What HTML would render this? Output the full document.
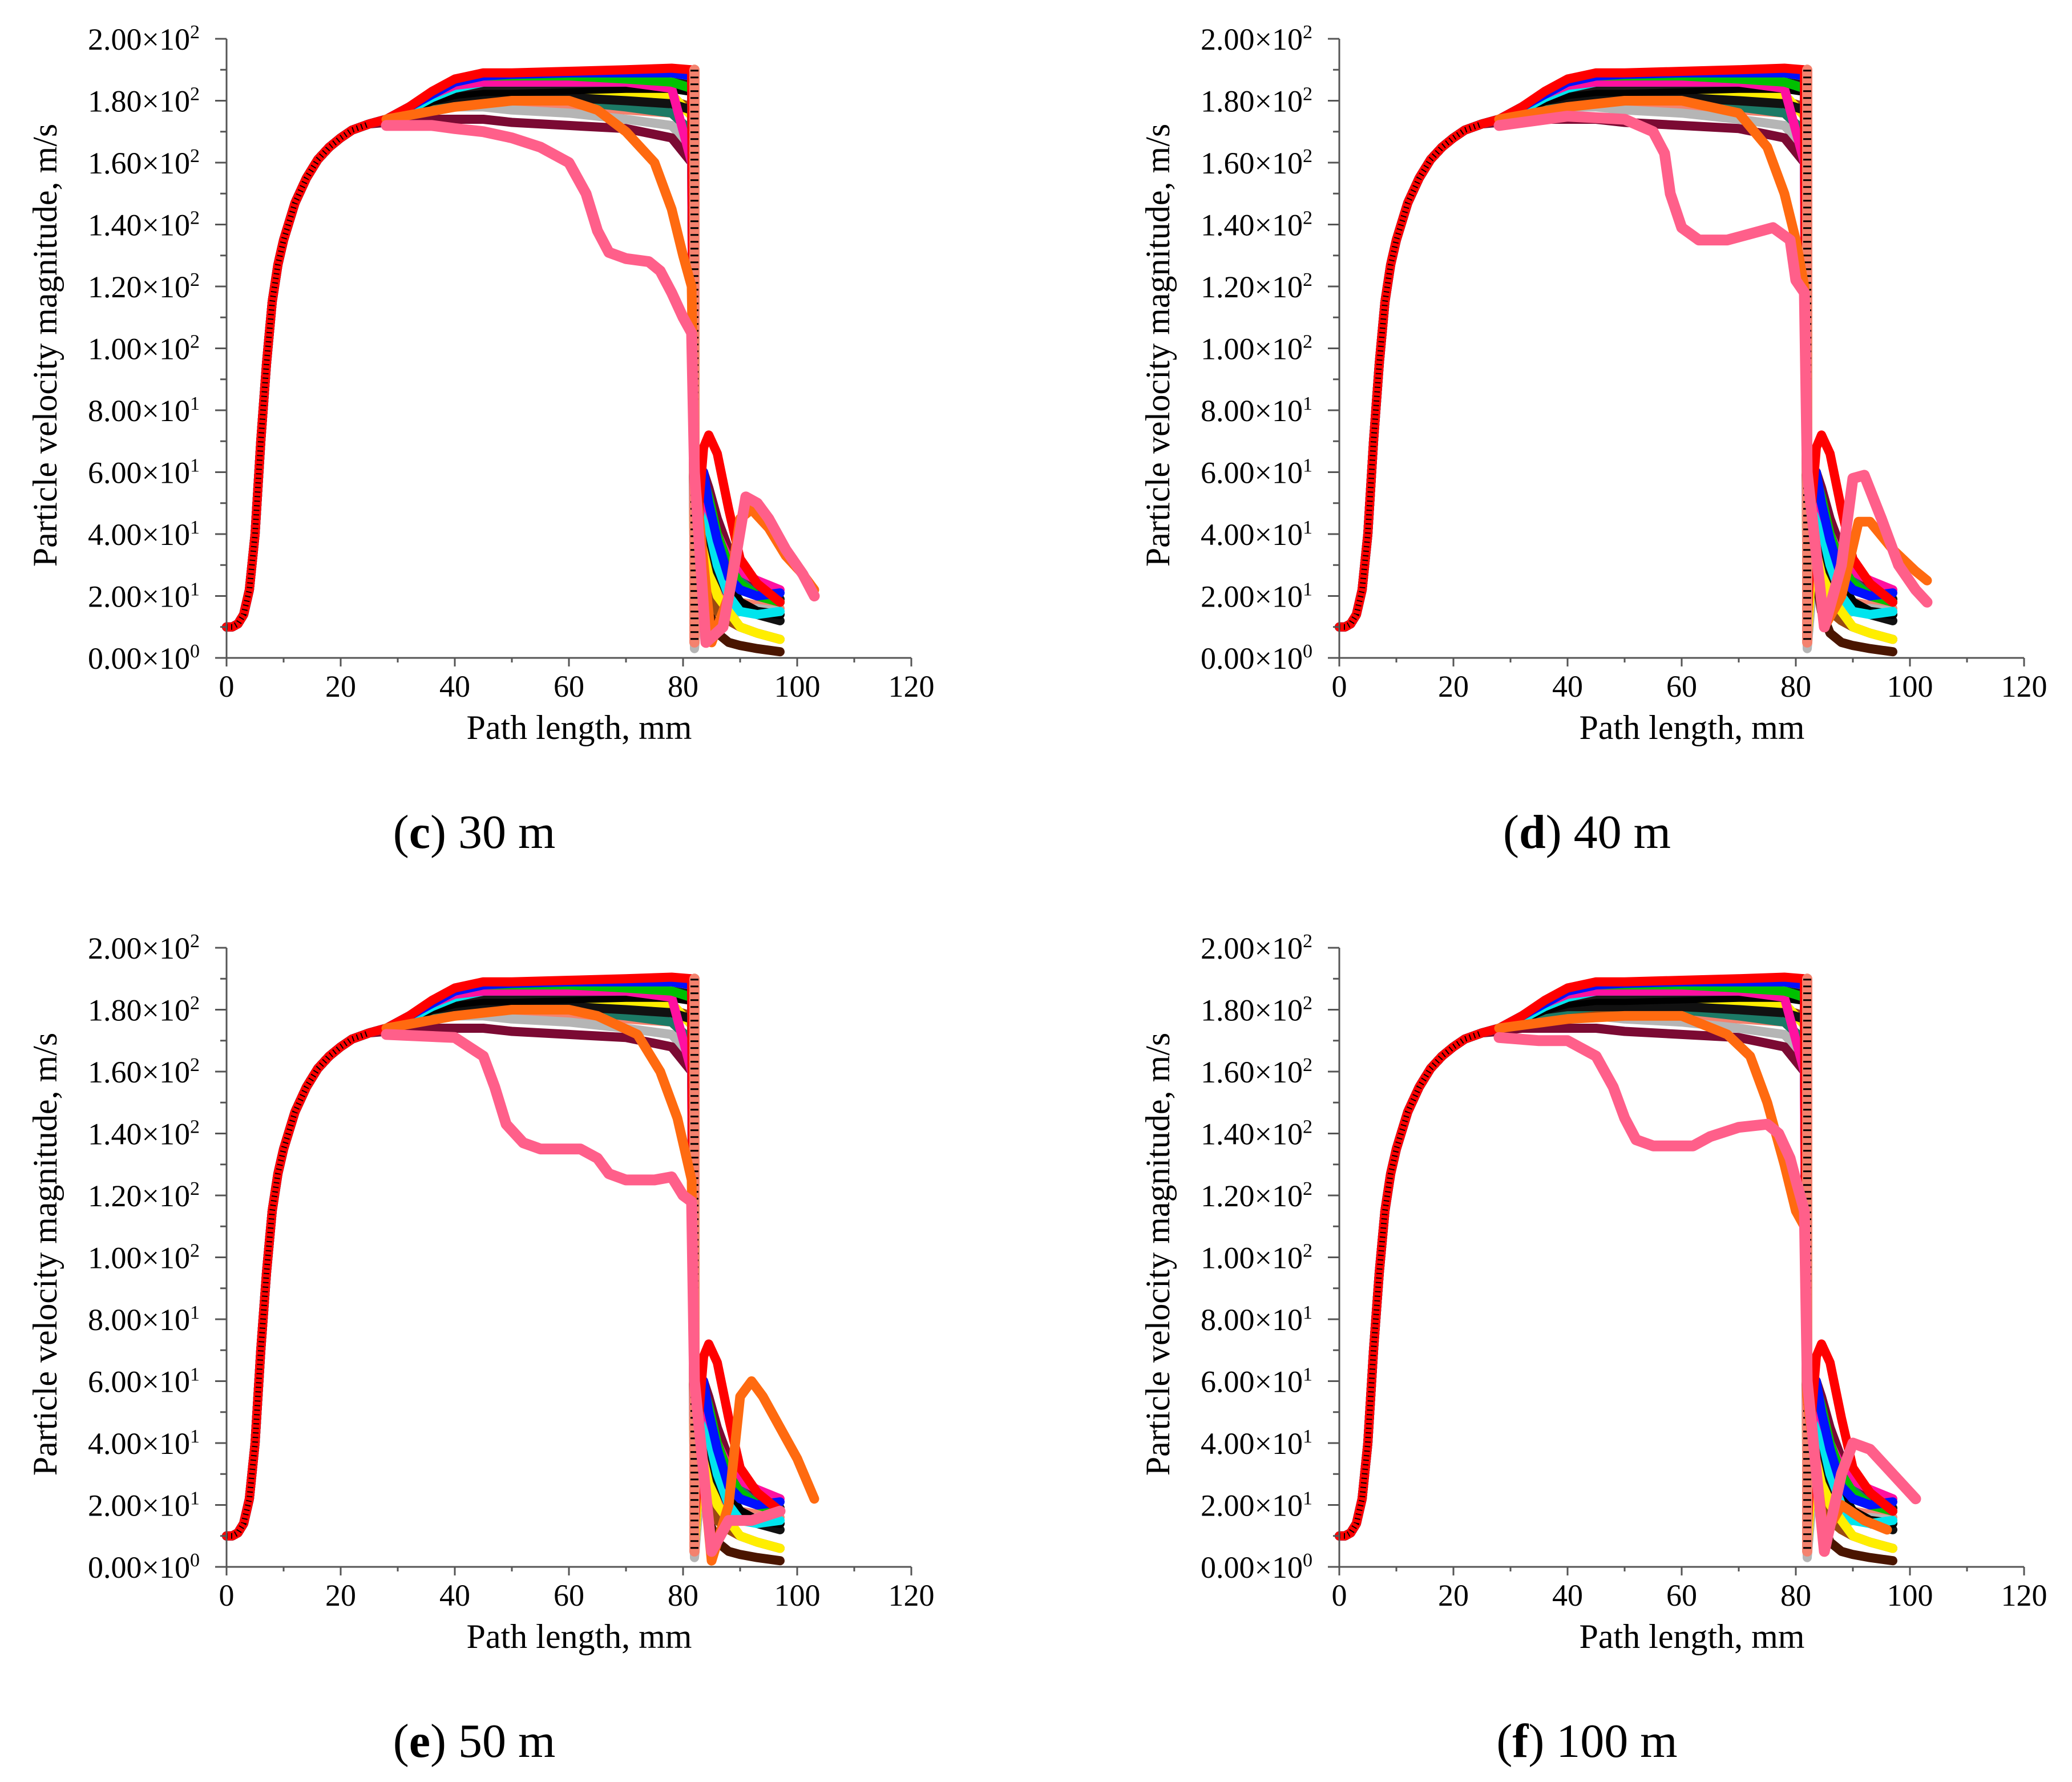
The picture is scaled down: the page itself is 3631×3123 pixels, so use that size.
<!DOCTYPE html>
<html><head><meta charset="utf-8">
<style>
html,body{margin:0;padding:0;background:#fff;}
svg{display:block;}
text{font-family:"Liberation Serif",serif;fill:#000;}
</style></head>
<body>
<svg id="fig" width="3631" height="3123" viewBox="0 0 3631 3123" xmlns="http://www.w3.org/2000/svg"></svg>
<script>
// ---- shared data ----
const xTicks=[0,20,40,60,80,100,120];
const yTicks=[0,20,40,60,80,100,120,140,160,180,200];
const yTickLabels=["0.00×10|0","2.00×10|1","4.00×10|1","6.00×10|1","8.00×10|1","1.00×10|2","1.20×10|2","1.40×10|2","1.60×10|2","1.80×10|2","2.00×10|2"];
const panelCaptions=["c|30 m","d|40 m","e|50 m","f|100 m"];
const riseX=[0,1,2,3,4,5,6,7,8,9,10,12,14,16,18,20,22,25];
const riseY=[10,10,11,14,22,40,70,95,115,127,135,147,155,161,165,168,170.5,172.5];
const plateauX=[28,32,36,40,45,50,60,70,78,81.5];
const tailX=[82,82.8,83.6,84.5,86,88,90,93,97];
const dropX=[82,82];
const dropY=[190,5];
const seriesNames=["salmon","gray","maroon","darkbrown","brown","teal","yellow","black3","black2","black1","cyan","magenta","green","blue","red"];
const seriesColors=["#f4826e","#b5b5b5","#7b0a33","#4a1500","#9a4a10","#1c7a66","#ffee00","#111111","#000000","#1a1a1a","#00e5ee","#ff10a0","#00c000","#0010ff","#ff0000"];
const plateauVals=[
 [174,176,178,179,179,179,178,177,176,170],
 [174,176,178,178,178,177,176,174,172,165],
 [173,174,174,174,174,173,172,171,168,160],
 [174,176,178,180,181,181,181,181,180,176],
 [174,176,178,180,180,180,180,181,180,178],
 [174,176,179,180,181,181,180,178,176,170],
 [174,177,180,182,182,182,182,182,182,175],
 [174,177,180,181,181,181,181,180,179,177],
 [174,177,180,182,183,183,183.5,184,184,183],
 [174,177,181,184,185,185,185.5,186,186,185],
 [174,177,181,184,186,186,186,186,186,184],
 [174,178,182,185,186,186,186,186,184,160],
 [174,178,182,186,188,188,188,187,186,184],
 [174,178,182,186,188,188.5,189,189,189,188],
 [174,178,183,187,189,189,189.5,190,190.5,190]
];
const tailVals=[
 [5,25,30,28,22,20,18,17,16],
 [3,20,25,20,15,14,15,16,15],
 [20,58,60,55,45,35,28,22,18],
 [5,30,25,15,8,5,4,3,2],
 [10,40,35,25,15,12,10,8,6],
 [20,55,50,42,38,30,25,20,18],
 [5,30,40,30,20,15,10,8,6],
 [35,62,55,40,28,20,16,14,12],
 [30,60,55,45,33,24,18,15,14],
 [25,62,60,50,40,28,22,20,19],
 [20,60,55,42,30,20,15,14,15],
 [15,45,55,48,40,32,28,25,22],
 [12,50,58,52,40,30,24,20,18],
 [10,55,60,50,38,26,22,20,21],
 [8,50,68,72,66,48,32,24,18]
];
const orangeX=[
 [28,40,50,60,65,70,75,78,80,81.5,82,85,88,90,92,95,98,101,103],
 [28,40,50,60,65,70,75,78,80,81.5,82,85,88,91,93,97,101,103],
 [28,40,50,60,65,72,76,79,81.5,82,85,88,90,92,94,97,100,103],
 [28,40,50,60,68,72,75,78,80,81.5,82,85,88,92,96]
];
const orangeY=[
 [174,178,180,180,177,170,160,145,130,120,60,5,20,45,48,42,33,27,22],
 [174,178,180,180,178,176,165,150,135,120,60,10,20,44,44,35,28,25,25],
 [174,178,180,180,178,172,160,145,125,60,2,20,55,60,55,45,35,22,22],
 [174,177,178,178,172,165,150,130,115,110,55,10,20,15,12]
];
const pinkX=[
 [28,32,36,40,45,50,55,60,63,65,67,70,74,76,78,80,81.5,82,84,87,89,91,93,95,98,101,103],
 [28,40,50,55,57,58,60,63,68,72,76,79,80,81.5,82,85,88,90,92,95,98,101,103],
 [28,40,45,47,49,52,55,62,65,67,70,75,78,80,81.5,82,85,88,92,97],
 [28,35,40,45,48,50,52,55,62,65,70,75,77,79,80,81.5,82,85,88,90,93,97,101]
];
const pinkY=[
 [172,172,172,171,170,168,165,160,150,138,131,129,128,125,118,110,105,60,5,10,30,52,50,45,35,27,20],
 [172,175,174,170,163,150,139,135,135,137,139,135,122,118,60,10,30,58,59,45,30,22,18],
 [172,171,165,155,143,137,135,135,132,127,125,125,126,120,118,60,5,15,15,18],
 [171,170,170,165,155,145,138,136,136,139,142,143,140,132,125,115,60,5,30,40,38,30,22]
];
const panelOffsets=[[0,0],[1950,0],[0,1593],[1950,1593]];

// ---- geometry ----
const X0=397,X1=1597,YT=68,YB=1153;
function sx(v){return X0+(v/120)*(X1-X0);}
function sy(v){return YB-(v/200)*(YB-YT);}
const NS="http://www.w3.org/2000/svg";
const fig=document.getElementById('fig');
function mk(tag,attrs,parent){const e=document.createElementNS(NS,tag);for(const k in attrs)e.setAttribute(k,attrs[k]);parent.appendChild(e);return e;}
function pathFrom(xs,ys){let d="";for(let i=0;i<xs.length;i++){d+=(i?"L":"M")+sx(xs[i]).toFixed(1)+","+sy(ys[i]).toFixed(1);}return d;}

panelOffsets.forEach((off,p)=>{
  const g=mk('g',{transform:`translate(${off[0]},${off[1]})`},fig);
  
  
  const series=mk('g',{fill:'none','stroke-linejoin':'round','stroke-linecap':'round'},g);
  
  
  for(let s=0;s<seriesNames.length;s++){
    const xs=riseX.concat(plateauX,tailX);
    const ys=riseY.concat(plateauVals[s],tailVals[s]);
    const el=mk('path',{d:pathFrom(xs,ys),stroke:seriesColors[s],'stroke-width':16},series);
    
    
  }
  const dr=mk('path',{d:pathFrom(dropX,dropY),stroke:'#f4826e','stroke-width':18},series);
  
  
  const dr2=mk('path',{d:pathFrom(dropX,dropY),stroke:'#000','stroke-width':14,'stroke-dasharray':'3 9','stroke-linecap':'butt'},series);
  
  
  const oy=mk('path',{d:pathFrom(orangeX[p],orangeY[p]),stroke:'#ff6a10','stroke-width':17},series);
  
  
  const pk=mk('path',{d:pathFrom(pinkX[p],pinkY[p]),stroke:'#ff5f8a','stroke-width':19},series);
  
  
  const bk=mk('path',{d:pathFrom(riseX,riseY),stroke:'#000','stroke-width':10,'stroke-dasharray':'2 6','stroke-linecap':'butt'},series);
  
  

  const ax=mk('g',{stroke:'#555','stroke-width':3},g);
  
  
  const xa=mk('line',{x1:377,y1:YB,x2:X1,y2:YB},ax);
  
  
  const ya=mk('line',{x1:X0,y1:YT,x2:X0,y2:YB+15},ax);
  
  
  for(let v=10;v<=120;v+=10){
    const major=(v%20===0);
    const t=mk('line',{x1:sx(v),y1:YB,x2:sx(v),y2:YB+(major?15:8)},ax);
    
    
  }
  for(let v=10;v<=200;v+=10){
    const major=(v%20===0);
    const t=mk('line',{x1:X0-(major?20:11),y1:sy(v),x2:X0,y2:sy(v)},ax);
    
    
  }
  xTicks.forEach(v=>{
    const t=mk('text',{x:sx(v),y:1221,'font-size':54,'text-anchor':'middle'},g);
    t.textContent=String(v);
    
    
  });
  yTicks.forEach((v,i)=>{
    const parts=yTickLabels[i].split('|');
    const t=mk('text',{x:350,y:sy(v)+19,'font-size':54,'text-anchor':'end'},g);
    const a=mk('tspan',{},t);a.textContent=parts[0];
    const b=mk('tspan',{'font-size':34,dy:-20},t);b.textContent=parts[1];
    
    
  });
  const xt=mk('text',{x:1015,y:1295,'font-size':60,'text-anchor':'middle'},g);
  xt.textContent='Path length, mm';
  
  
  const yt=mk('text',{x:0,y:0,'font-size':60,'text-anchor':'middle',transform:'translate(99,605) rotate(-90)'},g);
  yt.textContent='Particle velocity magnitude, m/s';
  
  
  const cp=panelCaptions[p].split('|');
  const cap=mk('text',{x:831,y:1486,'font-size':84,'text-anchor':'middle'},g);
  const c1=mk('tspan',{},cap);c1.textContent='(';
  const c2=mk('tspan',{'font-weight':'bold'},cap);c2.textContent=cp[0];
  const c3=mk('tspan',{},cap);c3.textContent=') '+cp[1];
  
  
});
</script>
</body></html>
